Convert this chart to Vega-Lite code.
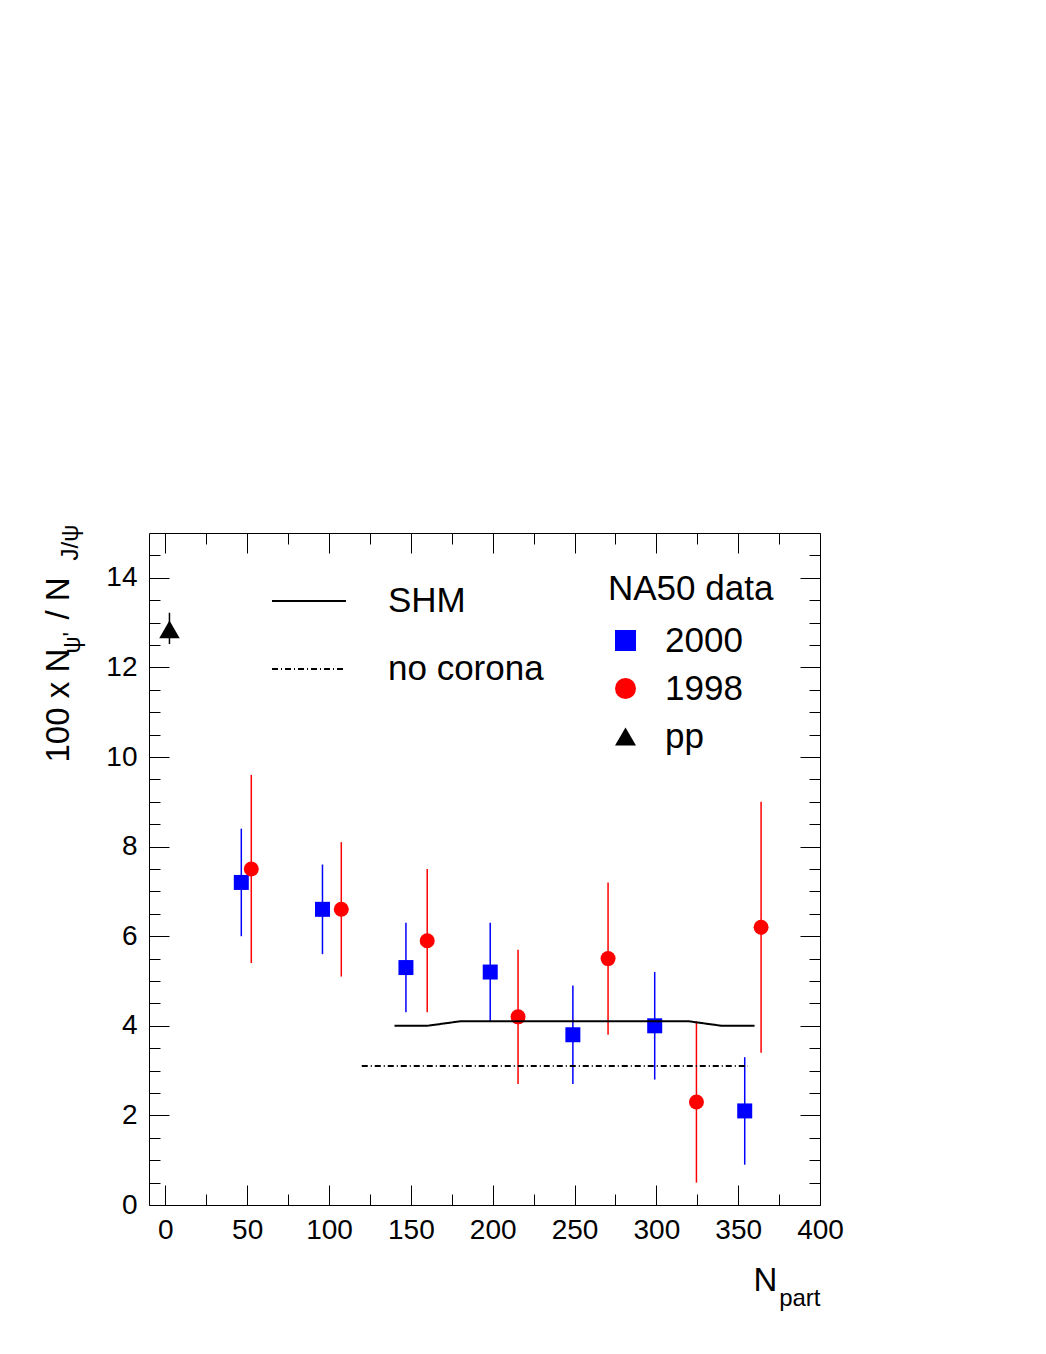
{
  "$schema": "https://vega.github.io/schema/vega-lite/v6.json",
  "width": 671,
  "height": 672,
  "autosize": "none",
  "padding": {"left": 149, "top": 533, "right": 226, "bottom": 149},
  "background": "white",
  "config": {
    "font": "Liberation Sans",
    "view": {"stroke": "black", "strokeWidth": 1},
    "axis": {
      "grid": false,
      "domain": false,
      "labelFont": "Liberation Sans",
      "labelFontSize": 28,
      "labelColor": "black",
      "labelFlush": false,
      "labelOverlap": false,
      "titleFont": "Liberation Sans",
      "titleFontWeight": "normal",
      "titleColor": "black",
      "tickColor": "black",
      "tickWidth": 1
    },
    "legend": {
      "labelFont": "Liberation Sans",
      "titleFont": "Liberation Sans",
      "labelColor": "black",
      "titleColor": "black"
    }
  },
  "datasets": {
    "pts": [
      {"series": "2000", "npart": 46.4, "ratio": 7.2, "lo": 6.0, "hi": 8.4},
      {"series": "2000", "npart": 96.0, "ratio": 6.6, "lo": 5.6, "hi": 7.6},
      {"series": "2000", "npart": 147.0, "ratio": 5.3, "lo": 4.3, "hi": 6.3},
      {"series": "2000", "npart": 198.5, "ratio": 5.2, "lo": 4.1, "hi": 6.3},
      {"series": "2000", "npart": 249.0, "ratio": 3.8, "lo": 2.7, "hi": 4.9},
      {"series": "2000", "npart": 299.0, "ratio": 4.0, "lo": 2.8, "hi": 5.2},
      {"series": "2000", "npart": 354.0, "ratio": 2.1, "lo": 0.9, "hi": 3.3},
      {"series": "1998", "npart": 52.5, "ratio": 7.5, "lo": 5.4, "hi": 9.6},
      {"series": "1998", "npart": 107.5, "ratio": 6.6, "lo": 5.1, "hi": 8.1},
      {"series": "1998", "npart": 160.0, "ratio": 5.9, "lo": 4.3, "hi": 7.5},
      {"series": "1998", "npart": 215.5, "ratio": 4.2, "lo": 2.7, "hi": 5.7},
      {"series": "1998", "npart": 270.5, "ratio": 5.5, "lo": 3.8, "hi": 7.2},
      {"series": "1998", "npart": 324.5, "ratio": 2.3, "lo": 0.5, "hi": 4.1},
      {"series": "1998", "npart": 364.0, "ratio": 6.2, "lo": 3.4, "hi": 9.0},
      {"series": "pp", "npart": 2.5, "ratio": 12.85, "lo": 12.52, "hi": 13.22}
    ],
    "models": [
      {"model": "SHM", "npart": 140, "ratio": 4.0},
      {"model": "SHM", "npart": 160, "ratio": 4.0},
      {"model": "SHM", "npart": 180, "ratio": 4.1},
      {"model": "SHM", "npart": 320, "ratio": 4.1},
      {"model": "SHM", "npart": 340, "ratio": 4.0},
      {"model": "SHM", "npart": 360, "ratio": 4.0},
      {"model": "no corona", "npart": 120, "ratio": 3.1},
      {"model": "no corona", "npart": 356, "ratio": 3.1}
    ]
  },
  "resolve": {"axis": {"x": "independent", "y": "independent"}},
  "layer": [
    {
      "data": {"name": "pts"},
      "mark": {"type": "rule", "strokeWidth": 1.5},
      "encoding": {
        "x": {"field": "npart", "type": "quantitative",
          "scale": {"domain": [-10, 400], "nice": false, "zero": false},
          "axis": {"orient": "bottom", "values": [0, 50, 100, 150, 200, 250, 300, 350, 400], "ticks": false, "labelPadding": 11,
            "title": "N", "titleFontSize": 33, "titleX": 604, "titleY": 85, "titleAlign": "left", "titleBaseline": "alphabetic", "titleAngle": 0}},
        "y": {"field": "lo", "type": "quantitative",
          "scale": {"domain": [0, 15], "nice": false, "zero": false},
          "axis": {"orient": "left", "values": [0, 2, 4, 6, 8, 10, 12, 14], "ticks": false, "labelPadding": 12,
            "title": "100 x N", "titleFontSize": 33, "titleX": -81, "titleY": 229, "titleAlign": "left", "titleBaseline": "alphabetic", "titleAngle": 270}},
        "y2": {"field": "hi"},
        "color": {"field": "series", "type": "nominal",
          "scale": {"domain": ["2000", "1998", "pp"], "range": ["#0000ff", "#ff0000", "#000000"]},
          "legend": {"orient": "none", "legendX": 459, "legendY": 39, "padding": 0,
            "title": "NA50 data", "titleFontSize": 35, "titleFontWeight": "normal", "titlePadding": 16,
            "labelFontSize": 35, "symbolSize": 441, "symbolStrokeWidth": 0, "symbolOffset": 0, "labelOffset": 22, "rowPadding": 12}}
      }
    },
    {
      "data": {"name": "pts"},
      "transform": [{"filter": "datum.series !== 'pp'"}],
      "mark": {"type": "point", "filled": true, "opacity": 1, "size": 225},
      "encoding": {
        "x": {"field": "npart", "type": "quantitative",
          "scale": {"domain": [-10, 400], "nice": false, "zero": false},
          "axis": {"orient": "bottom", "labels": false, "ticks": false,
            "title": "part", "titleFontSize": 24, "titleX": 671, "titleY": 100, "titleAlign": "right", "titleBaseline": "alphabetic", "titleAngle": 0}},
        "y": {"field": "ratio", "type": "quantitative",
          "scale": {"domain": [0, 15], "nice": false, "zero": false},
          "axis": {"orient": "left", "labels": false, "ticks": false,
            "title": "ψ'", "titleFontSize": 24, "titleX": -70, "titleY": 120, "titleAlign": "left", "titleBaseline": "alphabetic", "titleAngle": 270}},
        "color": {"field": "series", "type": "nominal",
          "scale": {"domain": ["2000", "1998", "pp"], "range": ["#0000ff", "#ff0000", "#000000"]},
          "legend": {"orient": "none", "legendX": 459, "legendY": 39, "padding": 0,
            "title": "NA50 data", "titleFontSize": 35, "titleFontWeight": "normal", "titlePadding": 16,
            "labelFontSize": 35, "symbolSize": 441, "symbolStrokeWidth": 0, "symbolOffset": 0, "labelOffset": 22, "rowPadding": 12}},
        "shape": {"field": "series", "type": "nominal",
          "scale": {"domain": ["2000", "1998", "pp"], "range": ["square", "circle", "triangle-up"]}}
      }
    },
    {
      "data": {"name": "pts"},
      "transform": [{"filter": "datum.series === 'pp'"}],
      "mark": {"type": "point", "filled": true, "opacity": 1, "size": 420},
      "encoding": {
        "x": {"field": "npart", "type": "quantitative",
          "scale": {"domain": [-10, 400], "nice": false, "zero": false}, "axis": null},
        "y": {"field": "ratio", "type": "quantitative",
          "scale": {"domain": [0, 15], "nice": false, "zero": false}, "axis": null},
        "color": {"field": "series", "type": "nominal",
          "scale": {"domain": ["2000", "1998", "pp"], "range": ["#0000ff", "#ff0000", "#000000"]}},
        "shape": {"field": "series", "type": "nominal",
          "scale": {"domain": ["2000", "1998", "pp"], "range": ["square", "circle", "triangle-up"]}}
      }
    },
    {
      "data": {"name": "models"},
      "mark": {"type": "line", "color": "black", "strokeWidth": 2},
      "encoding": {
        "x": {"field": "npart", "type": "quantitative",
          "scale": {"domain": [-10, 400], "nice": false, "zero": false},
          "axis": {"orient": "bottom", "values": [0, 50, 100, 150, 200, 250, 300, 350, 400], "labels": false, "tickSize": -20, "title": null}},
        "y": {"field": "ratio", "type": "quantitative",
          "scale": {"domain": [0, 15], "nice": false, "zero": false},
          "axis": {"orient": "left", "values": [0, 2, 4, 6, 8, 10, 12, 14], "labels": false, "tickSize": -20,
            "title": "/ N", "titleFontSize": 33, "titleX": -81, "titleY": 86, "titleAlign": "left", "titleBaseline": "alphabetic", "titleAngle": 270}},
        "strokeDash": {"field": "model", "type": "nominal",
          "scale": {"domain": ["SHM", "no corona"], "range": [[1, 0], [6, 3, 1, 3]]},
          "legend": {"orient": "none", "legendX": 122, "legendY": 30, "padding": 0, "title": null,
            "symbolType": "stroke", "symbolSize": 5476, "symbolStrokeWidth": 2, "symbolStrokeColor": "black",
            "labelFontSize": 35, "labelOffset": 41, "rowPadding": 12}}
      }
    },
    {
      "data": {"name": "pts"},
      "mark": {"type": "point", "opacity": 0},
      "encoding": {
        "x": {"field": "npart", "type": "quantitative",
          "scale": {"domain": [-10, 400], "nice": false, "zero": false},
          "axis": {"orient": "bottom", "values": [25, 75, 125, 175, 225, 275, 325, 375], "labels": false, "tickSize": -11, "title": null}},
        "y": {"field": "ratio", "type": "quantitative",
          "scale": {"domain": [0, 15], "nice": false, "zero": false},
          "axis": {"orient": "left", "values": [0.5, 1, 1.5, 2.5, 3, 3.5, 4.5, 5, 5.5, 6.5, 7, 7.5, 8.5, 9, 9.5, 10.5, 11, 11.5, 12.5, 13, 13.5, 14.5], "labels": false, "tickSize": -11,
            "title": "J/ψ", "titleFontSize": 24, "titleX": -72, "titleY": 27, "titleAlign": "left", "titleBaseline": "alphabetic", "titleAngle": 270}}
      }
    },
    {
      "data": {"name": "pts"},
      "mark": {"type": "point", "opacity": 0},
      "encoding": {
        "x": {"field": "npart", "type": "quantitative",
          "scale": {"domain": [-10, 400], "nice": false, "zero": false},
          "axis": {"orient": "top", "values": [0, 50, 100, 150, 200, 250, 300, 350, 400], "labels": false, "tickSize": -20, "title": null}},
        "y": {"field": "ratio", "type": "quantitative",
          "scale": {"domain": [0, 15], "nice": false, "zero": false},
          "axis": {"orient": "right", "values": [0, 2, 4, 6, 8, 10, 12, 14], "labels": false, "tickSize": -20, "title": null}}
      }
    },
    {
      "data": {"name": "pts"},
      "mark": {"type": "point", "opacity": 0},
      "encoding": {
        "x": {"field": "npart", "type": "quantitative",
          "scale": {"domain": [-10, 400], "nice": false, "zero": false},
          "axis": {"orient": "top", "values": [25, 75, 125, 175, 225, 275, 325, 375], "labels": false, "tickSize": -11, "title": null}},
        "y": {"field": "ratio", "type": "quantitative",
          "scale": {"domain": [0, 15], "nice": false, "zero": false},
          "axis": {"orient": "right", "values": [0.5, 1, 1.5, 2.5, 3, 3.5, 4.5, 5, 5.5, 6.5, 7, 7.5, 8.5, 9, 9.5, 10.5, 11, 11.5, 12.5, 13, 13.5, 14.5], "labels": false, "tickSize": -11, "title": null}}
      }
    }
  ]
}
